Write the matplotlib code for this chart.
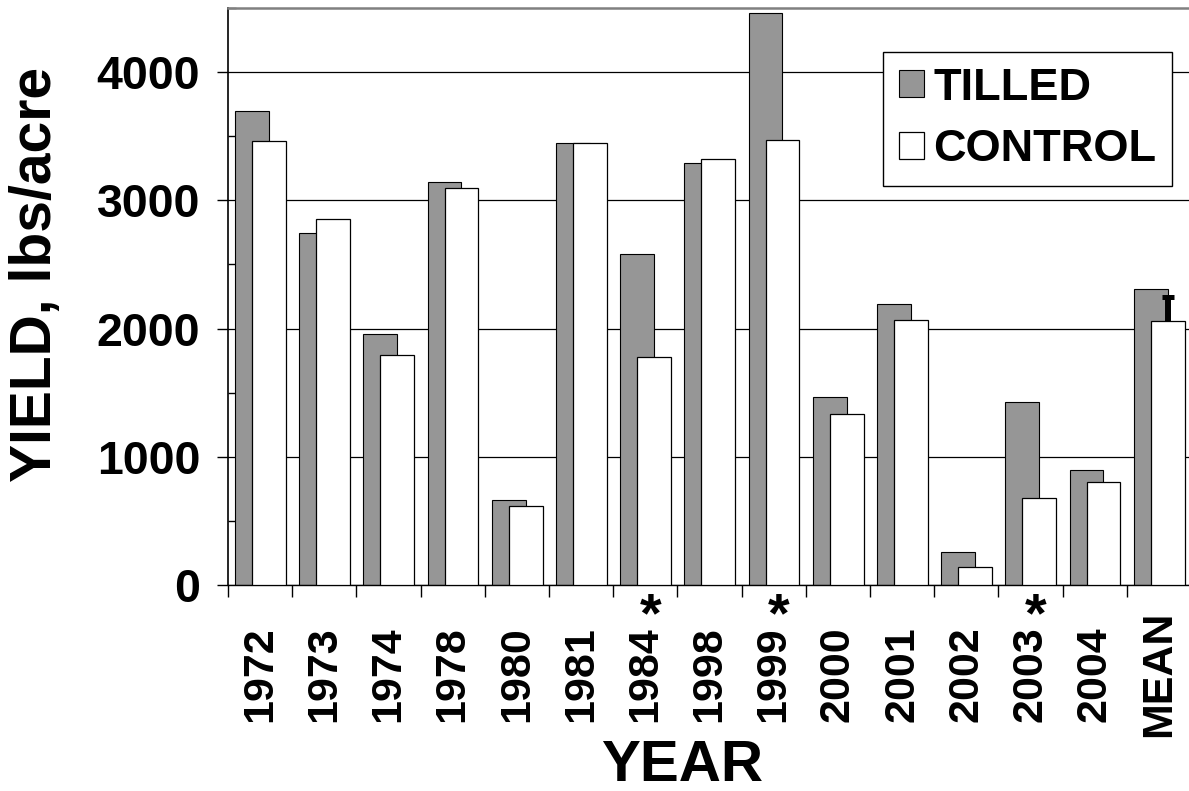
import numpy as np
import matplotlib
matplotlib.use("Agg")
import matplotlib.pyplot as plt
from matplotlib.ticker import MultipleLocator, FixedLocator

plt.rcParams['font.family'] = ['Liberation Sans', 'DejaVu Sans']
plt.rcParams['font.weight'] = 'bold'

# yield data, lbs/acre
years = ["1972", "1973", "1974", "1978", "1980", "1981", "1984", "1998",
         "1999", "2000", "2001", "2002", "2003", "2004", "MEAN"]
tilled = [3700, 2745, 1955, 3140, 660, 3450, 2585, 3295,
          4460, 1470, 2190, 255, 1430, 895, 2305]
control = [3460, 2855, 1790, 3100, 620, 3450, 1780, 3320,
           3470, 1330, 2070, 140, 675, 805, 2060]
mean_err = 185
significant = ["1984", "1999", "2003"]

fig = plt.figure(figsize=(11.89, 7.91), dpi=100)
ax = fig.add_axes([228 / 1189, 206 / 791, 963 / 1189, 577 / 791])

x = np.arange(len(years))
width = 0.525
ax.bar(x - 0.128, tilled, width, color='#969696', edgecolor='black',
       linewidth=0.8, label='TILLED', zorder=2)
ax.bar(x + 0.137, control, width, color='white', edgecolor='black',
       linewidth=0.9, label='CONTROL', zorder=4)

# upper error bar on the control mean (stem + flat cap)
xc = x[-1] + 0.137
ax.plot([xc, xc], [control[-1], control[-1] + mean_err], color='black',
        linewidth=4.3, solid_capstyle='butt', zorder=3)
ax.plot([xc], [control[-1] + mean_err], marker='_', markersize=8,
        markeredgewidth=3.6, color='black', zorder=3)

ax.set_xlim(-0.5, len(years) - 0.5)
ax.set_ylim(0, 4500)

# y axis: major ticks out, minor ticks in
ax.yaxis.set_major_locator(MultipleLocator(1000))
ax.yaxis.set_minor_locator(MultipleLocator(500))
ax.tick_params(axis='y', which='major', direction='out', length=8, width=1,
               labelsize=33.5, pad=12)
ax.tick_params(axis='y', which='minor', direction='in', length=6, width=1)
ax.grid(axis='y', which='major', color='black', linewidth=0.9, zorder=1)
ax.set_axisbelow(True)

# x axis: labels at centres, ticks at category edges
ax.set_xticks(x)
ax.set_xticklabels(years, rotation=90, va='center', fontsize=31)
ax.tick_params(axis='x', which='major', length=0, pad=64)
ax.xaxis.set_minor_locator(FixedLocator(np.arange(-0.5, len(years), 1.0)))
ax.tick_params(axis='x', which='minor', direction='out', length=8.6, width=1)

for yr in significant:
    i = years.index(yr)
    ax.annotate('*', xy=(i + 0.08, 0), xytext=(0, -23), textcoords='offset points',
                ha='center', va='center', fontsize=40, fontweight='bold',
                annotation_clip=False)

ax.spines['right'].set_visible(False)
ax.spines['top'].set_color('#808080')
ax.spines['top'].set_linewidth(1.8)
ax.spines['left'].set_linewidth(1.2)
ax.spines['bottom'].set_linewidth(1.0)

fig.text(36 / 1189, 1 - 274 / 791, 'YIELD, lbs/acre', rotation=90,
         ha='center', va='center', fontsize=41, fontweight='bold')
fig.text(682 / 1189, 1 - 766 / 791, 'YEAR', ha='center', va='center',
         fontsize=42, fontweight='bold')

leg = ax.legend(loc='upper right', bbox_to_anchor=(1172 / 1189, 1 - 52 / 791),
                bbox_transform=fig.transFigure, fontsize=32.5, frameon=True,
                fancybox=False, handlelength=0.55, handleheight=0.55,
                handletextpad=0.2, labelspacing=0.45, borderpad=0.35,
                borderaxespad=0)
leg.get_frame().set_edgecolor('black')
leg.get_frame().set_linewidth(1.0)
leg.get_frame().set_alpha(1)

fig.savefig('out.png', dpi=100)
